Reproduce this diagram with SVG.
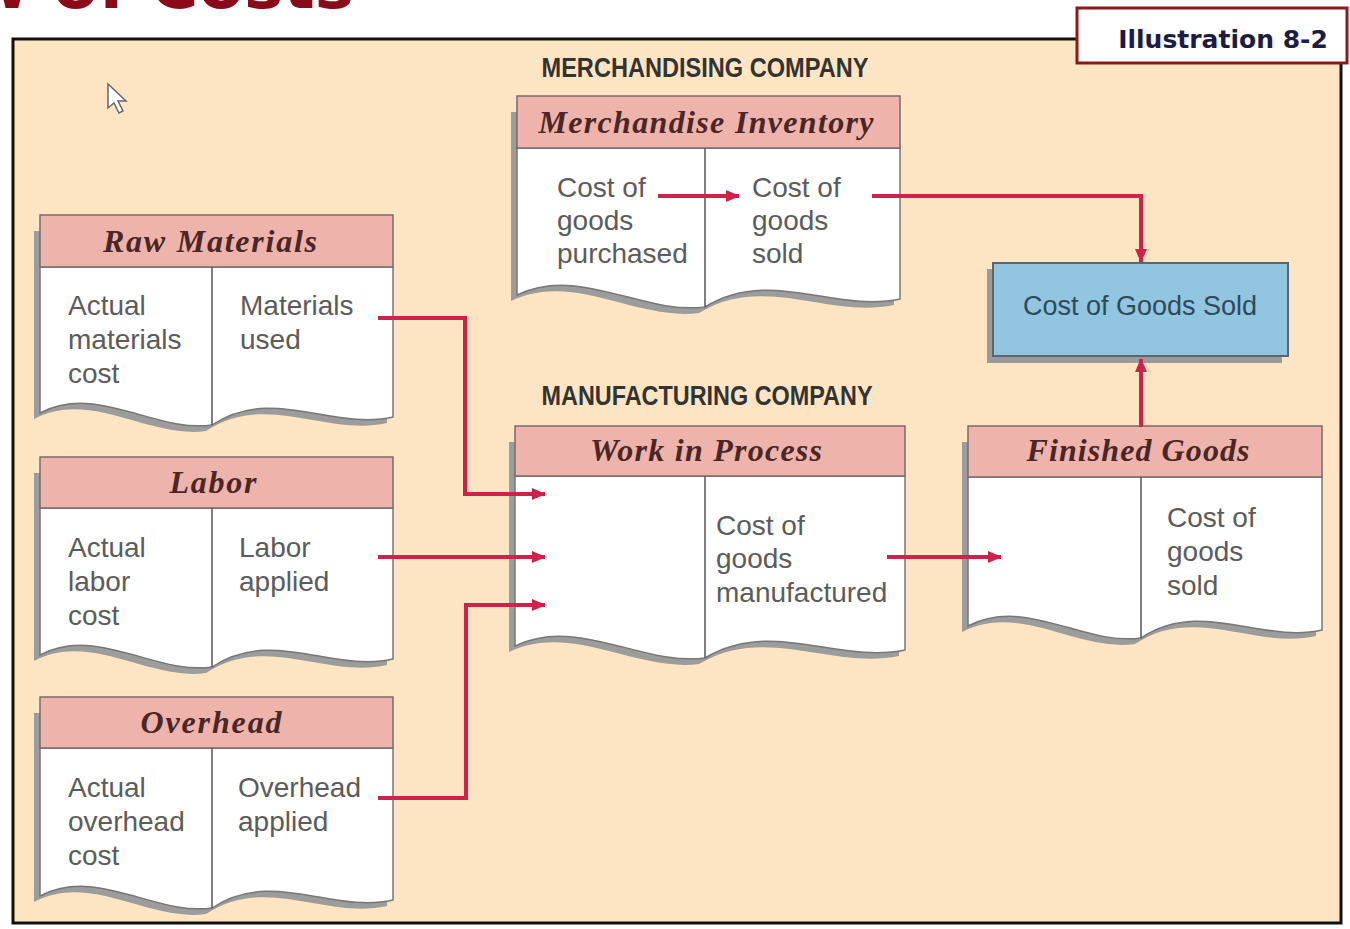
<svg xmlns="http://www.w3.org/2000/svg" width="1350" height="929" viewBox="0 0 1350 929">
<defs>
<style>
.hdr{fill:#EEB3AB;stroke:#7a6a68;stroke-width:1.5}
.body{fill:#fff;stroke:#777;stroke-width:1.5}
.shadow{fill:#9c9c9c}
.div{stroke:#555;stroke-width:1.5}
.ttl{font-family:"Liberation Serif",serif;font-weight:bold;font-style:italic;font-size:32px;fill:#4a2626;text-anchor:middle}
.txt{font-family:"Liberation Sans",Arial,sans-serif;font-size:28px;fill:#5c5c5c}
.sec{font-family:"Liberation Sans",Arial,sans-serif;font-weight:bold;font-size:27px;fill:#333}
.conn{fill:none;stroke:#D1214A;stroke-width:4}
</style>
<marker id="ah" markerWidth="14" markerHeight="12" refX="13" refY="6" orient="auto" markerUnits="userSpaceOnUse">
<path d="M0,0 L14,6 L0,12 z" fill="#D1214A"/>
</marker>
</defs>
<rect x="0" y="0" width="1350" height="929" fill="#fff"/>
<text x="354" y="8" font-family="DejaVu Sans,sans-serif" font-weight="bold" font-size="66" fill="#8B0A1A" text-anchor="end">Flow of Costs</text>
<rect id="frame" x="13" y="39" width="1328" height="884" fill="#FDE5C3" stroke="#111" stroke-width="3"/>
<g id="illustration-label">
<rect x="1077" y="8" width="270" height="55" fill="#fff" stroke="#8B1A1A" stroke-width="3"/>
<text x="1223" y="48" font-family="DejaVu Sans,sans-serif" font-weight="bold" font-size="25" fill="#1c1c44" text-anchor="middle">Illustration 8-2</text>
</g>
<path id="cursor" d="M108,84 L108,108 L114,103 L119,113 L123,111 L118,101 L126,101 Z" fill="#fff" stroke="#666" stroke-width="1.5"/>
<text class="sec" x="705" y="77" text-anchor="middle" textLength="327" lengthAdjust="spacingAndGlyphs">MERCHANDISING COMPANY</text>
<text class="sec" x="707" y="405" text-anchor="middle" textLength="331" lengthAdjust="spacingAndGlyphs">MANUFACTURING COMPANY</text>

<g id="raw-materials">
<g class="shadow" transform="translate(-6,6)"><rect x="40" y="225" width="353" height="42"/><path d="M40,267 V413 C97,383 155,433 212,425 C272,385 333,431 393,417 V267 Z"/></g>
<path class="body" d="M40,267 V413 C97,383 155,433 212,425 C272,385 333,431 393,417 V267 Z"/>
<rect class="hdr" x="40" y="215" width="353" height="52"/>
<line class="div" x1="212" y1="267" x2="212" y2="425"/>
<text class="ttl" x="210" y="252" textLength="214">Raw Materials</text>
<text class="txt"><tspan x="68" y="315">Actual</tspan><tspan x="68" y="349">materials</tspan><tspan x="68" y="383">cost</tspan></text>
<text class="txt"><tspan x="240" y="315">Materials</tspan><tspan x="240" y="349">used</tspan></text>
</g>

<g id="labor">
<g class="shadow" transform="translate(-6,6)"><rect x="40" y="467" width="353" height="41"/><path d="M40,508 V655 C97,625 155,675 212,667 C272,627 333,673 393,659 V508 Z"/></g>
<path class="body" d="M40,508 V655 C97,625 155,675 212,667 C272,627 333,673 393,659 V508 Z"/>
<rect class="hdr" x="40" y="457" width="353" height="51"/>
<line class="div" x1="212" y1="508" x2="212" y2="667"/>
<text class="ttl" x="213" y="493" textLength="87">Labor</text>
<text class="txt"><tspan x="68" y="557">Actual</tspan><tspan x="68" y="591">labor</tspan><tspan x="68" y="625">cost</tspan></text>
<text class="txt"><tspan x="239" y="557">Labor</tspan><tspan x="239" y="591">applied</tspan></text>
</g>

<g id="overhead">
<g class="shadow" transform="translate(-6,6)"><rect x="40" y="707" width="353" height="41"/><path d="M40,748 V896 C97,866 155,916 212,908 C272,868 333,914 393,900 V748 Z"/></g>
<path class="body" d="M40,748 V896 C97,866 155,916 212,908 C272,868 333,914 393,900 V748 Z"/>
<rect class="hdr" x="40" y="697" width="353" height="51"/>
<line class="div" x1="212" y1="748" x2="212" y2="908"/>
<text class="ttl" x="211" y="733" textLength="141">Overhead</text>
<text class="txt"><tspan x="68" y="797">Actual</tspan><tspan x="68" y="831">overhead</tspan><tspan x="68" y="865">cost</tspan></text>
<text class="txt"><tspan x="238" y="797">Overhead</tspan><tspan x="238" y="831">applied</tspan></text>
</g>

<g id="merchandise-inventory">
<g class="shadow" transform="translate(-6,6)"><rect x="517" y="106" width="383" height="42"/><path d="M517,148 V295 C580,265 642,315 705,307 C770,267 835,313 900,299 V148 Z"/></g>
<path class="body" d="M517,148 V295 C580,265 642,315 705,307 C770,267 835,313 900,299 V148 Z"/>
<rect class="hdr" x="517" y="96" width="383" height="52"/>
<line class="div" x1="705" y1="148" x2="705" y2="307"/>
<text class="ttl" x="706" y="133" textLength="335">Merchandise Inventory</text>
<text class="txt"><tspan x="557" y="197">Cost of</tspan><tspan x="557" y="230">goods</tspan><tspan x="557" y="263">purchased</tspan></text>
<text class="txt"><tspan x="752" y="197">Cost of</tspan><tspan x="752" y="230">goods</tspan><tspan x="752" y="263">sold</tspan></text>
</g>

<g id="work-in-process">
<g class="shadow" transform="translate(-6,6)"><rect x="515" y="436" width="390" height="40"/><path d="M515,476 V646 C578,616 642,666 705,658 C772,618 838,664 905,650 V476 Z"/></g>
<path class="body" d="M515,476 V646 C578,616 642,666 705,658 C772,618 838,664 905,650 V476 Z"/>
<rect class="hdr" x="515" y="426" width="390" height="50"/>
<line class="div" x1="705" y1="476" x2="705" y2="658"/>
<text class="ttl" x="706" y="461" textLength="232">Work in Process</text>
<text class="txt"><tspan x="716" y="535">Cost of</tspan><tspan x="716" y="568">goods</tspan><tspan x="716" y="602">manufactured</tspan></text>
</g>

<g id="finished-goods">
<g class="shadow" transform="translate(-6,6)"><rect x="968" y="436" width="354" height="41"/><path d="M968,477 V626 C1026,596 1083,646 1141,638 C1201,598 1262,644 1322,630 V477 Z"/></g>
<path class="body" d="M968,477 V626 C1026,596 1083,646 1141,638 C1201,598 1262,644 1322,630 V477 Z"/>
<rect class="hdr" x="968" y="426" width="354" height="51"/>
<line class="div" x1="1141" y1="477" x2="1141" y2="638"/>
<text class="ttl" x="1138" y="461" textLength="223">Finished Goods</text>
<text class="txt"><tspan x="1167" y="527">Cost of</tspan><tspan x="1167" y="561">goods</tspan><tspan x="1167" y="595">sold</tspan></text>
</g>

<g id="cost-of-goods-sold">
<rect x="987" y="269" width="295" height="94" fill="#9a9a9a"/>
<rect x="993" y="263" width="295" height="93" fill="#92C5E0" stroke="#5a6670" stroke-width="2"/>
<text x="1140" y="315" font-family="Liberation Sans,Arial,sans-serif" font-size="27" fill="#2E4A5A" text-anchor="middle">Cost of Goods Sold</text>
</g>

<g id="connectors">
<path class="conn" d="M378,318 H465 V494 H545" marker-end="url(#ah)"/>
<path class="conn" d="M378,557 H545" marker-end="url(#ah)"/>
<path class="conn" d="M378,798 H466 V605 H545" marker-end="url(#ah)"/>
<path class="conn" d="M887,557 H1001" marker-end="url(#ah)"/>
<path class="conn" d="M1141,427 V359" marker-end="url(#ah)"/>
<path class="conn" d="M872,196 H1141 V262" marker-end="url(#ah)"/>
<path class="conn" d="M658,196 H739" marker-end="url(#ah)"/>
</g>
</svg>
